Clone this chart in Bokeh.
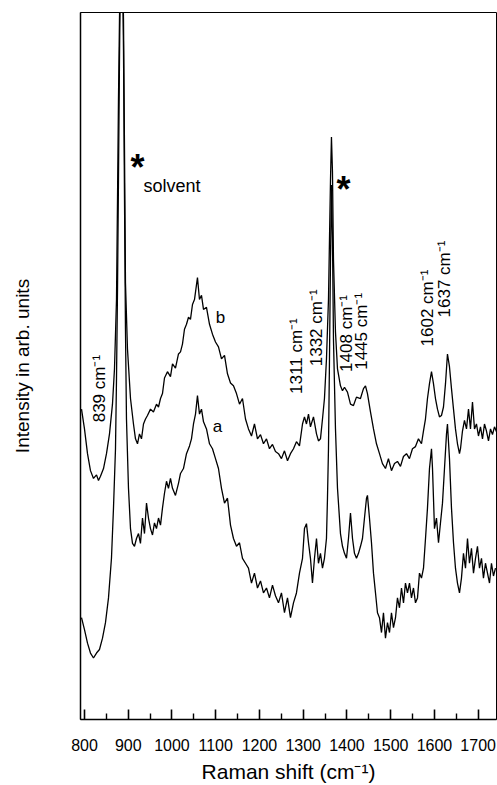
import math
from bokeh.plotting import figure
from bokeh.models import FixedTicker, Range1d, ColumnDataSource
from bokeh.core.properties import value
from bokeh.embed import file_html
from bokeh.resources import INLINE

FONT = "Liberation Sans"

# ---------------- data ----------------
# spectrum b (upper trace)
b_shift = [793.2, 800.0, 806.9, 813.7, 820.6, 827.5, 832.0, 836.6, 843.5, 850.3,
           857.2, 864.0, 868.6, 873.2, 875.5, 877.7, 880.0, 882.3, 884.6, 886.9,
           889.2, 891.5, 893.7, 898.3, 905.2, 912.0, 916.6, 921.2, 925.7, 930.3,
           934.9, 939.5, 944.0, 950.9, 957.7, 964.6, 969.2, 973.8, 978.3, 982.9,
           989.7, 996.6, 1001.2, 1008.0, 1014.9, 1019.5, 1024.0, 1028.6, 1033.2, 1037.8,
           1042.3, 1046.9, 1051.5, 1056.1, 1058.3, 1062.9, 1067.5, 1072.1, 1078.9, 1085.8,
           1092.6, 1099.5, 1106.3, 1113.2, 1120.1, 1126.9, 1133.8, 1140.6, 1147.5, 1154.4,
           1161.2, 1168.1, 1174.9, 1181.8, 1188.6, 1195.5, 1202.4, 1209.2, 1216.1, 1222.9,
           1229.8, 1236.6, 1243.5, 1250.3, 1257.2, 1264.1, 1270.9, 1277.8, 1284.6, 1291.5,
           1298.4, 1302.9, 1307.5, 1312.1, 1316.6, 1323.5, 1330.4, 1334.9, 1339.5, 1344.1,
           1348.6, 1353.2, 1357.8, 1360.1, 1362.4, 1364.6, 1366.9, 1369.2, 1373.8, 1378.4,
           1385.2, 1389.8, 1394.4, 1401.2, 1408.1, 1414.9, 1421.8, 1430.9, 1437.8, 1442.4,
           1446.9, 1453.8, 1460.7, 1467.5, 1474.4, 1481.2, 1488.1, 1494.9, 1501.8, 1508.7,
           1515.5, 1522.4, 1529.2, 1536.1, 1542.9, 1549.8, 1556.7, 1563.5, 1570.4, 1574.9,
           1579.5, 1584.1, 1588.7, 1593.3, 1597.8, 1602.4, 1607.0, 1611.5, 1616.1, 1620.7,
           1625.3, 1629.8, 1634.4, 1639.0, 1643.6, 1648.1, 1652.7, 1657.3, 1659.6, 1664.1,
           1668.7, 1673.3, 1677.9, 1682.4, 1687.0, 1691.6, 1696.1, 1700.7, 1705.3, 1709.9,
           1714.4, 1719.0, 1723.6, 1728.2, 1732.7, 1737.3, 1741.9]
b_int = [43.9, 41.1, 37.6, 35.2, 34.1, 34.6, 33.8, 34.4, 35.5, 37.6,
         40.4, 44.6, 49.6, 59.4, 73.5, 87.6, 99.0, 108.0, 113.0, 108.0,
         99.0, 80.6, 61.8, 52.4, 45.4, 41.8, 39.7, 39.0, 40.4, 39.7,
         41.8, 42.5, 43.0, 43.9, 43.5, 44.6, 44.2, 45.4, 46.1, 48.3,
         49.2, 48.5, 50.3, 49.7, 51.7, 52.0, 53.1, 55.2, 55.9, 56.9,
         56.6, 58.7, 59.4, 61.5, 62.5, 59.4, 60.0, 58.0, 58.3, 55.9,
         54.5, 53.4, 52.7, 51.0, 51.5, 48.9, 47.6, 47.2, 46.1, 44.6,
         45.4, 42.5, 41.1, 40.1, 41.8, 39.7, 40.3, 39.0, 39.7, 38.3,
         38.9, 37.9, 37.6, 36.9, 38.0, 36.6, 37.6, 38.3, 39.3, 38.7,
         41.8, 42.8, 41.8, 43.2, 41.4, 42.8, 40.4, 39.4, 39.7, 42.5,
         45.4, 51.0, 59.4, 67.9, 76.3, 82.4, 77.5, 65.1, 54.8, 49.6,
         47.2, 46.5, 47.0, 46.3, 44.6, 44.4, 45.6, 45.4, 46.8, 47.2,
         46.1, 43.5, 41.1, 39.0, 37.6, 36.2, 35.5, 36.9, 35.2, 36.2,
         36.5, 35.8, 37.2, 37.6, 36.9, 38.3, 38.6, 39.7, 39.0, 40.8,
         42.5, 45.4, 47.5, 49.2, 47.5, 45.4, 43.9, 42.8, 43.0, 44.2,
         47.5, 51.7, 49.9, 46.8, 43.9, 41.1, 39.0, 37.6, 38.3, 40.8,
         42.3, 41.1, 43.9, 41.1, 44.9, 41.1, 41.8, 40.1, 41.4, 39.7,
         41.8, 40.8, 39.4, 41.1, 40.3, 41.4, 40.7]

# spectrum a (lower trace)
a_shift = [793.2, 800.0, 806.9, 813.7, 820.6, 827.5, 834.3, 841.2, 848.0, 854.9,
           861.7, 866.3, 870.9, 873.2, 875.5, 877.7, 880.0, 882.3, 884.6, 886.9,
           889.2, 891.5, 893.7, 896.0, 900.6, 905.2, 909.8, 914.3, 918.9, 923.5,
           928.0, 932.6, 937.2, 941.8, 946.3, 950.9, 955.5, 960.0, 964.6, 969.2,
           973.8, 978.3, 982.9, 987.5, 992.0, 996.6, 1001.2, 1008.0, 1014.9, 1019.5,
           1026.3, 1033.2, 1040.1, 1044.6, 1049.2, 1053.8, 1058.3, 1062.9, 1067.5, 1072.1,
           1078.9, 1085.8, 1092.6, 1099.5, 1106.3, 1113.2, 1120.1, 1126.9, 1133.8, 1140.6,
           1147.5, 1154.4, 1161.2, 1168.1, 1174.9, 1181.8, 1188.6, 1195.5, 1202.4, 1209.2,
           1216.1, 1222.9, 1229.8, 1236.6, 1243.5, 1250.3, 1257.2, 1264.1, 1270.9, 1277.8,
           1284.6, 1291.5, 1298.4, 1302.9, 1307.5, 1312.1, 1316.6, 1321.2, 1325.8, 1330.4,
           1334.9, 1339.5, 1344.1, 1348.6, 1353.2, 1355.5, 1357.8, 1360.1, 1362.4, 1364.6,
           1366.9, 1369.2, 1373.8, 1378.4, 1385.2, 1389.8, 1394.4, 1399.0, 1403.5, 1408.1,
           1412.7, 1417.2, 1421.8, 1426.4, 1431.0, 1435.5, 1440.1, 1444.7, 1446.9, 1451.5,
           1456.1, 1460.7, 1465.3, 1469.8, 1474.4, 1479.0, 1483.5, 1488.1, 1492.7, 1497.3,
           1501.8, 1506.4, 1511.0, 1515.5, 1520.1, 1524.7, 1529.3, 1533.8, 1538.4, 1543.0,
           1547.5, 1552.1, 1556.7, 1561.3, 1565.8, 1570.4, 1575.0, 1579.6, 1584.1, 1588.7,
           1593.3, 1595.6, 1600.1, 1604.7, 1609.3, 1613.8, 1618.4, 1623.0, 1627.6, 1629.8,
           1634.4, 1639.0, 1643.6, 1648.1, 1652.7, 1657.3, 1661.8, 1666.4, 1671.0, 1675.6,
           1680.1, 1684.7, 1689.3, 1693.9, 1698.4, 1703.0, 1707.6, 1712.1, 1716.7, 1721.3,
           1725.9, 1730.4, 1735.0, 1739.6]
a_int = [14.4, 12.7, 10.8, 9.4, 8.7, 9.4, 9.9, 11.5, 13.7, 17.2,
         22.8, 29.9, 38.3, 48.2, 60.8, 76.3, 93.2, 107.0, 113.0, 107.0,
         94.6, 73.5, 55.2, 42.5, 32.7, 27.0, 24.9, 24.5, 25.6, 26.3,
         24.9, 28.5, 26.3, 30.6, 28.5, 27.0, 26.1, 27.8, 27.0, 28.5,
         27.5, 29.9, 32.0, 33.7, 32.7, 34.1, 32.7, 31.7, 33.4, 34.8,
         35.5, 37.6, 38.7, 39.7, 41.8, 43.2, 45.8, 43.2, 43.9, 42.1,
         41.1, 39.0, 38.3, 36.9, 35.5, 32.7, 30.6, 31.3, 27.5, 25.6,
         24.5, 25.0, 22.8, 22.1, 21.4, 19.3, 20.7, 18.6, 19.6, 17.9,
         18.6, 17.2, 19.0, 17.5, 16.5, 17.9, 15.1, 17.2, 14.4, 16.5,
         17.9, 20.7, 22.8, 27.0, 27.7, 25.0, 22.8, 19.3, 22.8, 25.6,
         22.1, 23.5, 21.4, 22.8, 25.6, 31.3, 38.3, 51.0, 65.1, 75.6,
         67.9, 53.8, 41.1, 32.7, 26.3, 24.5, 23.5, 22.8, 25.6, 29.2,
         25.6, 23.5, 22.8, 23.5, 24.5, 25.6, 28.5, 31.3, 31.7, 28.5,
         25.0, 20.7, 17.9, 15.1, 14.4, 12.3, 15.1, 11.5, 13.7, 12.3,
         15.1, 13.0, 14.4, 17.2, 15.8, 18.6, 16.5, 19.3, 17.9, 19.3,
         17.2, 18.6, 16.5, 17.2, 20.7, 20.0, 21.4, 25.6, 29.9, 35.5,
         38.3, 35.5, 27.0, 28.5, 25.0, 27.8, 30.6, 35.5, 40.4, 41.8,
         36.9, 29.9, 25.0, 21.4, 19.3, 17.9, 20.0, 23.5, 21.4, 25.6,
         22.1, 24.2, 20.7, 22.8, 24.5, 21.4, 22.8, 20.0, 22.1, 20.7,
         19.3, 22.1, 20.3, 21.4]

assert len(b_shift) == len(b_int), (len(b_shift), len(b_int))
assert len(a_shift) == len(a_int), (len(a_shift), len(a_int))

major_ticks = [800, 900, 1000, 1100, 1200, 1300, 1400, 1500, 1600, 1700]
minor_ticks = [850, 950, 1050, 1150, 1250, 1350, 1450, 1550, 1650]

# peak annotations: text, position (shift, intensity) of label centre
peak_labels = ["839 cm\u207b\u00b9", "1311 cm\u207b\u00b9", "1332 cm\u207b\u00b9",
               "1408 cm\u207b\u00b9", "1445 cm\u207b\u00b9", "1602 cm\u207b\u00b9",
               "1637 cm\u207b\u00b9"]
peak_label_x = [834.3, 1284.7, 1330.4, 1399.0, 1433.2, 1584.0, 1623.0]
peak_label_y = [46.8, 51.4, 55.4, 54.6, 54.9, 58.2, 62.3]

trace_names = ["b", "a"]
trace_name_x = [1110.9, 1104.0]
trace_name_y = [56.9, 41.5]

solvent_star_x = [921.2, 1392.1]
solvent_star_y = [78.1, 74.9]

# ---------------- figure ----------------
p = figure(width=497, height=785, output_backend="svg", toolbar_location=None,
           x_range=Range1d(790.9, 1741.9), y_range=Range1d(0, 100),
           min_border_left=80, min_border_right=1, min_border_top=12,
           min_border_bottom=63)
p.background_fill_color = "white"
p.border_fill_color = "white"
p.outline_line_color = "black"
p.outline_line_width = 1
p.xgrid.visible = False
p.ygrid.visible = False

p.line(b_shift, b_int, line_color="black", line_width=1.3)
p.line(a_shift, a_int, line_color="black", line_width=1.3)

# x axis (ticks pointing inward)
xa = p.xaxis[0]
xa.ticker = FixedTicker(ticks=major_ticks, minor_ticks=minor_ticks)
xa.major_tick_in = 10
xa.major_tick_out = 0
xa.minor_tick_in = 6
xa.minor_tick_out = 0
xa.major_tick_line_color = "black"
xa.minor_tick_line_color = "black"
xa.major_tick_line_width = 1.6
xa.minor_tick_line_width = 1.4
xa.axis_line_width = 1.5
xa.axis_line_color = "black"
xa.major_label_text_font = FONT
xa.major_label_text_font_size = "16px"
xa.major_label_text_color = "black"
xa.major_label_standoff = 19
xa.axis_label = "Raman shift (cm\u207b\u00b9)"
xa.axis_label_text_font = FONT
xa.axis_label_text_font_size = "21px"
xa.axis_label_text_font_style = "normal"
xa.axis_label_text_color = "black"
xa.axis_label_standoff = 6

# y axis (plain line, no ticks)
ya = p.yaxis[0]
ya.ticker = FixedTicker(ticks=[])
ya.major_tick_in = 0
ya.major_tick_out = 0
ya.minor_tick_in = 0
ya.minor_tick_out = 0
ya.major_label_text_font_size = "0px"
ya.major_label_standoff = 0
ya.axis_line_width = 1.5
ya.axis_line_color = "black"
ya.axis_label = "Intensity in arb. units"
ya.axis_label_text_font = FONT
ya.axis_label_text_font_size = "19px"
ya.axis_label_text_font_style = "normal"
ya.axis_label_text_color = "black"
ya.axis_label_standoff = 48

# peak labels
src = ColumnDataSource(dict(x=peak_label_x, y=peak_label_y, t=peak_labels))
p.text(x="x", y="y", text="t", source=src, angle=math.pi / 2,
       text_font=value(FONT), text_font_size="17px", text_color="black",
       text_align="center", text_baseline="middle")

# trace names
src2 = ColumnDataSource(dict(x=trace_name_x, y=trace_name_y, t=trace_names))
p.text(x="x", y="y", text="t", source=src2,
       text_font=value(FONT), text_font_size="17px", text_color="black",
       text_align="center", text_baseline="middle")

# solvent markers
p.text(x=solvent_star_x, y=solvent_star_y, text=["*", "*"],
       text_font=value(FONT), text_font_size="36px", text_font_style="bold",
       text_color="black", text_align="center", text_baseline="alphabetic")
p.text(x=[934.9], y=[75.5], text=["solvent"],
       text_font=value(FONT), text_font_size="18px", text_color="black",
       text_align="left", text_baseline="middle")

open("out.html", "w").write(file_html(p, INLINE))
